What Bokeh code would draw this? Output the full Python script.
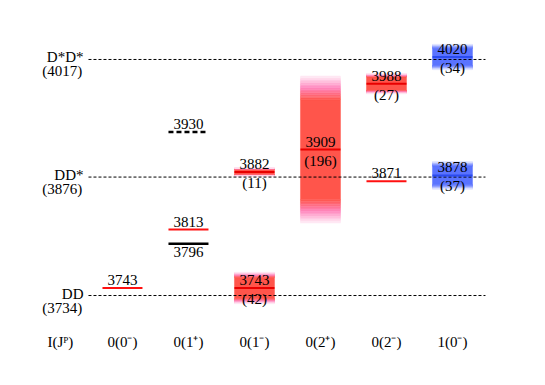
from bokeh.plotting import figure
from bokeh.models import Range1d, ColumnDataSource
from bokeh.embed import file_html
from bokeh.resources import INLINE
from bokeh.core.properties import value

# ---------------- data ----------------
threshold_names = ["D*D*", "DD*", "DD"]
threshold_masses = [4017, 3876, 3734]

column_labels = ["0(0\u207b)", "0(1\u207a)", "0(1\u207b)", "0(2\u207a)", "0(2\u207b)", "1(0\u207b)"]
axis_title = "I(J\u1d3e)"

# sharp red levels (no width): column index (1-based), mass
red_line_col = [1, 2, 5]
red_line_mass = [3743, 3813, 3871]

# black levels
black_solid_col = [2]
black_solid_mass = [3796]
black_dashed_col = [2]
black_dashed_mass = [3930]

# red resonances with widths
red_box_col = [3, 3, 4, 5]
red_box_mass = [3882, 3743, 3909, 3988]
red_box_width = [11, 42, 196, 27]

# blue (isovector) resonances with widths
blue_box_col = [6, 6]
blue_box_mass = [4020, 3878]
blue_box_width = [34, 37]

# ---------------- figure ----------------
FONT = value("Liberation Serif")
FS = "15px"
HALF = 0.303

p = figure(width=529, height=369, output_backend="svg", toolbar_location=None,
           x_axis_type=None, y_axis_type=None,
           x_range=Range1d(-0.848, 7.167), y_range=Range1d(3645.3, 4087.7),
           min_border=0, min_border_left=0, min_border_right=0,
           min_border_top=0, min_border_bottom=0)
p.grid.visible = False
p.outline_line_color = None
p.background_fill_color = "white"
p.border_fill_color = "white"


def lerp(c1, c2, t):
    return "#%02x%02x%02x" % tuple(int(round(a + (b - a) * t)) for a, b in zip(c1, c2))


def gradient_boxes(cols, masses, widths, core, mid, edge, nstrip=14):
    L, R, B, T, C = [], [], [], [], []
    for c, m, w in zip(cols, masses, widths):
        ext = 0.45 * w
        band = 0.16 * 2 * ext
        lo, hi = m - ext, m + ext
        L.append(c - HALF); R.append(c + HALF); B.append(lo + band); T.append(hi - band); C.append(lerp(core, core, 0))
        for k in range(nstrip):
            t = (k + 0.5) / nstrip
            col = lerp(core, mid, t / 0.5) if t < 0.5 else lerp(mid, edge, (t - 0.5) / 0.5)
            d0 = band * k / nstrip
            d1 = band * (k + 1) / nstrip
            L.append(c - HALF); R.append(c + HALF); B.append(hi - band + d0); T.append(hi - band + d1); C.append(col)
            L.append(c - HALF); R.append(c + HALF); B.append(lo + band - d1); T.append(lo + band - d0); C.append(col)
    src = ColumnDataSource(dict(left=L, right=R, bottom=B, top=T, color=C))
    p.quad(left="left", right="right", bottom="bottom", top="top", fill_color="color",
           line_color="color", line_width=0.5, source=src)


gradient_boxes(red_box_col, red_box_mass, red_box_width,
               (255, 85, 75), (255, 135, 190), (255, 240, 248))
gradient_boxes(blue_box_col, blue_box_mass, blue_box_width,
               (90, 115, 255), (150, 165, 255), (235, 238, 255))

# threshold dashed lines
p.segment(x0=[0.485] * 3, x1=[6.5] * 3, y0=threshold_masses, y1=threshold_masses,
          line_color="black", line_width=1, line_dash="3 2")

# level lines
p.segment(x0=[c - HALF for c in red_line_col], x1=[c + HALF for c in red_line_col],
          y0=red_line_mass, y1=red_line_mass, line_color="#ff1010", line_width=2)
p.segment(x0=[c - HALF for c in red_box_col], x1=[c + HALF for c in red_box_col],
          y0=red_box_mass, y1=red_box_mass, line_color="#e80000", line_width=2)
p.segment(x0=[c - HALF for c in blue_box_col], x1=[c + HALF for c in blue_box_col],
          y0=blue_box_mass, y1=blue_box_mass, line_color="#2a4bf0", line_width=2)
p.segment(x0=[c - HALF for c in black_solid_col], x1=[c + HALF for c in black_solid_col],
          y0=black_solid_mass, y1=black_solid_mass, line_color="black", line_width=2.5)
p.segment(x0=[c - HALF for c in black_dashed_col], x1=[c + HALF for c in black_dashed_col],
          y0=black_dashed_mass, y1=black_dashed_mass, line_color="black", line_width=2.5,
          line_dash="5 3")

# mass labels above lines
above_x = red_line_col + black_dashed_col + red_box_col + blue_box_col
above_y = red_line_mass + black_dashed_mass + red_box_mass + blue_box_mass
p.text(x=above_x, y=above_y, text=[str(m) for m in above_y], text_font=FONT,
       text_font_size=FS, text_align="center", text_baseline="alphabetic",
       y_offset=-8, text_color="black")

# mass label below black line
p.text(x=black_solid_col, y=black_solid_mass, text=[str(m) for m in black_solid_mass],
       text_font=FONT, text_font_size=FS, text_align="center", text_baseline="top",
       y_offset=3, text_color="black")

# width labels
wx = red_box_col + blue_box_col
wy = red_box_mass + blue_box_mass
ww = red_box_width + blue_box_width
p.text(x=wx, y=wy, text=["(%d)" % w for w in ww], text_font=FONT, text_font_size=FS,
       text_align="center", text_baseline="top", y_offset=3, text_color="black")

# threshold labels
p.text(x=[0.409] * 3, y=threshold_masses, text=threshold_names, text_font=FONT,
       text_font_size=FS, text_align="right", text_baseline="alphabetic", y_offset=-2,
       text_color="black")
p.text(x=[0.39] * 3, y=threshold_masses, text=["(%d)" % m for m in threshold_masses],
       text_font=FONT, text_font_size=FS, text_align="right", text_baseline="alphabetic",
       y_offset=12, text_color="black")

# quantum number labels
label_y = 3678
p.text(x=list(range(1, 7)), y=[label_y] * 6, text=column_labels, text_font=FONT,
       text_font_size=FS, text_align="center", text_baseline="alphabetic", text_color="black")
p.text(x=[0.06], y=[label_y], text=[axis_title], text_font=FONT, text_font_size=FS,
       text_align="center", text_baseline="alphabetic", text_color="black")

open("out.html", "w").write(file_html(p, INLINE))
